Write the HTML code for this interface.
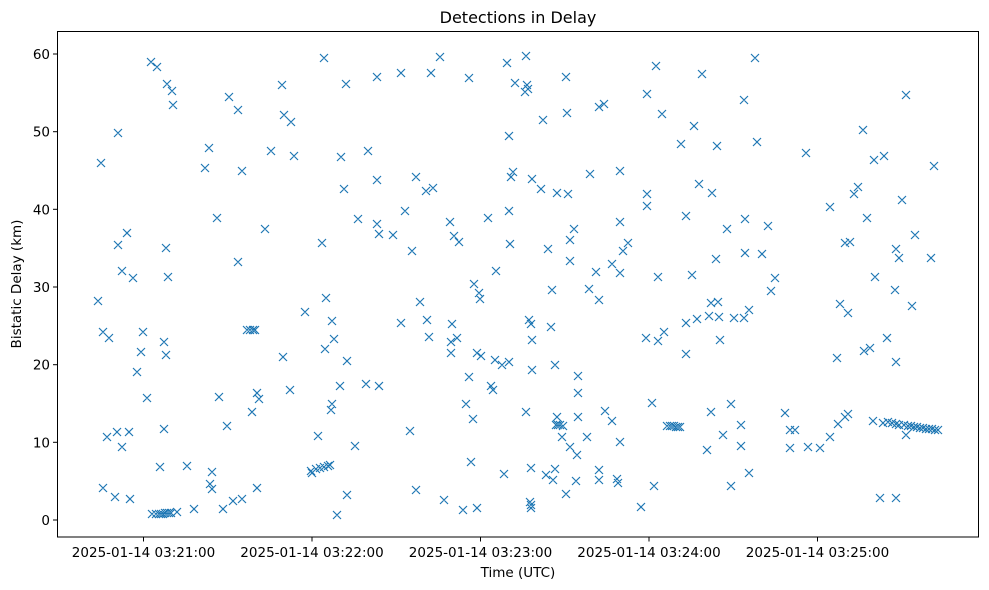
<!DOCTYPE html>
<html><head><meta charset="utf-8"><style>
body{margin:0;background:#fff;}
svg{display:block;font-family:"DejaVu Sans","Liberation Sans",sans-serif;}
</style></head><body>
<svg id="s" width="989" height="590" xmlns="http://www.w3.org/2000/svg">
<rect width="989" height="590" fill="#fff"/>
<text x="518" y="23" font-size="16" text-anchor="middle">Detections in Delay</text>
<g font-size="13.5" text-anchor="end" fill="#000">
<line x1="53" y1="520" x2="57.5" y2="520" stroke="#000"/><text x="50" y="525">0</text>
<line x1="53" y1="442.3" x2="57.5" y2="442.3" stroke="#000"/><text x="50" y="447.3">10</text>
<line x1="53" y1="364.7" x2="57.5" y2="364.7" stroke="#000"/><text x="50" y="369.7">20</text>
<line x1="53" y1="287" x2="57.5" y2="287" stroke="#000"/><text x="50" y="292">30</text>
<line x1="53" y1="209.3" x2="57.5" y2="209.3" stroke="#000"/><text x="50" y="214.3">40</text>
<line x1="53" y1="131.7" x2="57.5" y2="131.7" stroke="#000"/><text x="50" y="136.7">50</text>
<line x1="53" y1="54" x2="57.5" y2="54" stroke="#000"/><text x="50" y="59">60</text>
</g>
<g font-size="13.5" text-anchor="middle">
<line x1="143.5" y1="537" x2="143.5" y2="541.5" stroke="#000"/><text x="143.5" y="557">2025-01-14 03:21:00</text>
<line x1="312" y1="537" x2="312" y2="541.5" stroke="#000"/><text x="312" y="557">2025-01-14 03:22:00</text>
<line x1="480.5" y1="537" x2="480.5" y2="541.5" stroke="#000"/><text x="480.5" y="557">2025-01-14 03:23:00</text>
<line x1="649" y1="537" x2="649" y2="541.5" stroke="#000"/><text x="649" y="557">2025-01-14 03:24:00</text>
<line x1="817.5" y1="537" x2="817.5" y2="541.5" stroke="#000"/><text x="817.5" y="557">2025-01-14 03:25:00</text>
</g>
<text x="518" y="577" font-size="13.5" text-anchor="middle">Time (UTC)</text>
<text transform="translate(21,284) rotate(-90)" font-size="13.5" text-anchor="middle">Bistatic Delay (km)</text>
<rect x="57.5" y="31.5" width="921" height="505.5" fill="none" stroke="#000" stroke-width="1"/>
<path id="pts" fill="none" stroke="#1f77b4" stroke-width="1.2" d=""/>
</svg>
<script>
var p=[98,300,101,162,103,487,103,331,107,436,109,337,115,496,117,431,118,132,118,244,122,270,122,446,127,232,129,431,130,498,133,277,137,371,141,351,143,331,147,397,151,61,157,66,160,466,152,513,156,513,159,513,161,513,163,513,165,512,167,512,169,512,171,512,177,511,164,428,164,341,166,247,166,354,167,83,168,276,172,90,173,104,187,465,194,508,205,167,209,147,210,483,212,471,212,488,217,217,219,396,223,508,227,425,229,96,233,500,238,109,238,261,242,498,242,170,247,329,250,329,253,329,255,329,252,411,257,487,257,392,259,398,265,228,271,150,282,84,283,356,284,114,290,389,291,121,294,155,305,311,311,470,312,472,316,468,318,435,320,467,322,242,324,466,324,57,325,348,326,297,328,465,330,464,331,409,332,320,332,403,334,338,337,514,340,385,341,156,344,188,346,83,347,360,347,494,355,445,358,218,366,383,368,150,377,76,377,179,377,223,379,385,379,233,393,234,401,72,401,322,405,210,410,430,412,250,416,176,416,489,420,301,426,190,427,319,429,336,431,72,433,187,440,56,444,499,450,221,451,341,451,352,452,323,454,235,457,337,459,241,463,509,466,403,469,376,469,77,471,461,473,418,474,283,477,507,477,352,479,292,480,298,481,355,488,217,491,385,493,389,495,359,496,270,502,364,504,473,507,62,509,135,509,210,509,361,510,243,511,176,513,171,515,82,525,91,526,55,526,411,527,84,528,88,529,319,530,501,531,504,531,507,531,467,531,323,532,339,532,369,532,178,541,188,543,119,546,474,548,248,551,326,552,289,553,479,555,468,555,364,556,424,557,416,557,192,558,424,560,424,562,436,563,425,566,493,566,76,567,112,568,193,570,446,570,260,570,239,574,228,576,480,577,454,578,416,578,392,578,375,587,436,589,288,590,173,596,271,599,299,599,106,599,469,599,479,604,103,605,410,612,263,612,420,617,478,618,482,620,441,620,272,620,221,620,170,623,250,628,242,641,506,646,337,647,193,647,93,647,205,652,402,654,485,656,65,658,276,658,340,662,113,664,331,667,425,670,425,672,425,674,425,676,426,678,426,680,426,681,143,686,215,686,322,686,353,692,274,694,125,697,318,699,183,702,73,707,449,709,315,711,411,711,302,712,192,716,258,717,145,718,301,719,316,720,339,723,434,727,228,731,485,731,403,734,317,741,424,741,445,744,99,744,317,745,252,745,218,749,309,749,472,755,57,757,141,762,253,768,225,771,290,775,277,785,412,790,447,790,429,795,429,806,152,808,446,820,447,830,206,830,436,837,357,838,423,840,303,845,416,845,242,848,413,848,312,850,241,854,193,858,186,863,129,864,350,867,217,870,347,873,420,874,159,875,276,880,497,883,422,884,155,887,337,888,421,892,422,895,289,896,248,896,361,896,497,896,423,899,424,899,257,902,199,904,424,906,94,906,434,908,425,912,305,915,234,911,425,914,426,917,426,920,427,923,427,926,428,929,428,932,428,935,429,938,429,931,257,934,165];
var d="",r=4;
for(var i=0;i<p.length;i+=2){var x=p[i],y=p[i+1]+1;d+="M"+(x-r)+" "+(y-r)+"L"+(x+r)+" "+(y+r)+"M"+(x-r)+" "+(y+r)+"L"+(x+r)+" "+(y-r);}
document.getElementById("pts").setAttribute("d",d);
</script>
</body></html>
